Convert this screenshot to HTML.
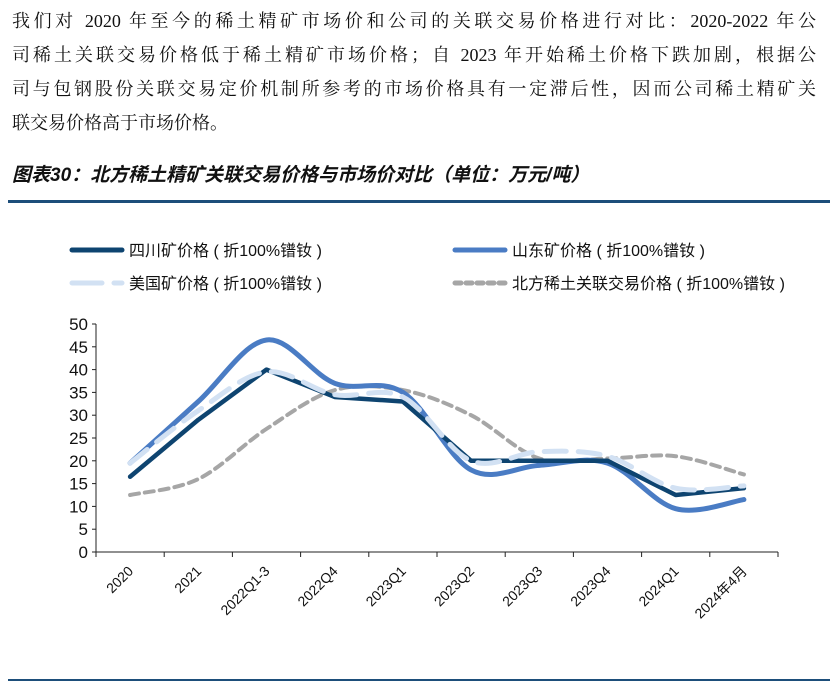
<!DOCTYPE html>
<html><head><meta charset="utf-8">
<style>
body{margin:0;width:830px;height:686px;background:#fff;font-family:"Liberation Sans","Noto Sans CJK SC",sans-serif;position:relative;overflow:hidden}
.p{position:absolute;left:12px;top:4px;width:804px;font-family:"Liberation Serif","Noto Serif CJK SC",serif;font-size:18px;line-height:34px;color:#111}
.p div{text-align:justify;text-align-last:justify;height:34px}
.p div.l{text-align-last:left}
.t{position:absolute;left:12px;top:160px;font-size:19px;font-weight:bold;font-style:italic;color:#111;font-family:"Liberation Sans","Noto Sans CJK SC",sans-serif}
</style></head><body>
<div class="p">
<div>我们对 2020 年至今的稀土精矿市场价和公司的关联交易价格进行对比：2020-2022 年公</div>
<div>司稀土关联交易价格低于稀土精矿市场价格；自 2023 年开始稀土价格下跌加剧，根据公</div>
<div>司与包钢股份关联交易定价机制所参考的市场价格具有一定滞后性，因而公司稀土精矿关</div>
<div class="l">联交易价格高于市场价格。</div>
</div>
<div class="t">图表30：北方稀土精矿关联交易价格与市场价对比（单位：万元/吨）</div>
<div style="position:absolute;left:8px;top:200px;width:822px;height:3px;background:#1d4e7a"></div>
<div style="position:absolute;left:8px;top:679px;width:822px;height:2px;background:#1d4e7a"></div>
<svg id="c" width="830" height="686" style="position:absolute;left:0;top:0"></svg>
<script>
const categories=["2020","2021","2022Q1-3","2022Q4","2023Q1","2023Q2","2023Q3","2023Q4","2024Q1","2024年4月"];
const sichuan=[16.5,29,40,34,33,20,20,20,12.5,14];
const shandong=[19.5,33,46.5,37,35,18,19,19.5,9.5,11.5];
const usa=[19.5,31,39.5,34.5,34,20,22,21,14,14.5];
const beifang=[12.5,16,27,35.5,35.5,30,20.5,20.5,21,17];
const yTicks=[0,5,10,15,20,25,30,35,40,45,50];
const legendLabels=["四川矿价格 ( 折100%镨钕 )","山东矿价格 ( 折100%镨钕 )","美国矿价格 ( 折100%镨钕 )","北方稀土关联交易价格 ( 折100%镨钕 )"];
const NS="http://www.w3.org/2000/svg",svg=document.getElementById('c');
const X0=96,X1=778,Y0=552,Y1=324;
const bw=(X1-X0)/categories.length;
const xs=i=>X0+bw*(i+0.5);
const ys=v=>Y0-(v/50)*(Y0-Y1);
function mk(t,a,p){const e=document.createElementNS(NS,t);for(const k in a)e.setAttribute(k,a[k]);(p||svg).appendChild(e);return e;}
let ax=mk('path',{d:`M${X0} ${Y1}V${Y0}H${X1}`,stroke:'#222',fill:'none','stroke-width':1});


yTicks.forEach(v=>{
 mk('line',{x1:X0-4,x2:X0,y1:ys(v),y2:ys(v),stroke:'#222'});
 let t=mk('text',{x:X0-8,y:ys(v)+6,'text-anchor':'end','font-size':17,fill:'#111'});t.textContent=v;
 
 
});
for(let i=0;i<=categories.length;i++)mk('line',{x1:X0+bw*i,x2:X0+bw*i,y1:Y0,y2:Y0+5,stroke:'#222'});
categories.forEach((c,i)=>{
 let t=mk('text',{x:xs(i)+4,y:Y0+20,'text-anchor':'end','font-size':14,fill:'#111',transform:`rotate(-45 ${xs(i)+4} ${Y0+20})`});t.textContent=c;
 
 
});
function linePath(a){return a.map((v,i)=>(i?'L':'M')+xs(i)+' '+ys(v)).join('');}
function smoothPath(a){const p=a.map((v,i)=>[xs(i),ys(v)]);let d=`M${p[0][0]} ${p[0][1]}`;
 for(let i=0;i<p.length-1;i++){const p0=p[i-1]||p[i],p1=p[i],p2=p[i+1],p3=p[i+2]||p2;
 d+=`C${p1[0]+(p2[0]-p0[0])/6} ${p1[1]+(p2[1]-p0[1])/6} ${p2[0]-(p3[0]-p1[0])/6} ${p2[1]-(p3[1]-p1[1])/6} ${p2[0]} ${p2[1]}`;}return d;}
const series=[
 {d:beifang,smooth:true,c:'#a6a6a6',w:4,dash:'9 6',n:'series-beifang'},
 {d:shandong,smooth:true,c:'#4a7cc4',w:5,dash:'',n:'series-shandong'},
 {d:sichuan,smooth:false,c:'#0e4470',w:4.5,dash:'',n:'series-sichuan'},
 {d:usa,smooth:true,c:'#d2e1f3',w:5,dash:'22 12',n:'series-usa'}];
series.forEach(s=>{let e=mk('path',{d:s.smooth?smoothPath(s.d):linePath(s.d),stroke:s.c,'stroke-width':s.w,fill:'none','stroke-dasharray':s.dash,'stroke-linejoin':'round','stroke-linecap':'round'});
 
 });
const leg=[{x:72,y:250,c:'#0e4470',dash:''},{x:455,y:250,c:'#4a7cc4',dash:''},{x:72,y:283,c:'#d2e1f3',dash:'30 12'},{x:455,y:283,c:'#a6a6a6',dash:'6 5'}];
leg.forEach((l,i)=>{
 mk('line',{x1:l.x,x2:l.x+50,y1:l.y,y2:l.y,stroke:l.c,'stroke-width':5,'stroke-dasharray':l.dash,'stroke-linecap':'round'});
 let t=mk('text',{x:l.x+57,y:l.y+6,'font-size':16,fill:'#111'});t.textContent=legendLabels[i];
 
 
});
</script>
</body></html>
